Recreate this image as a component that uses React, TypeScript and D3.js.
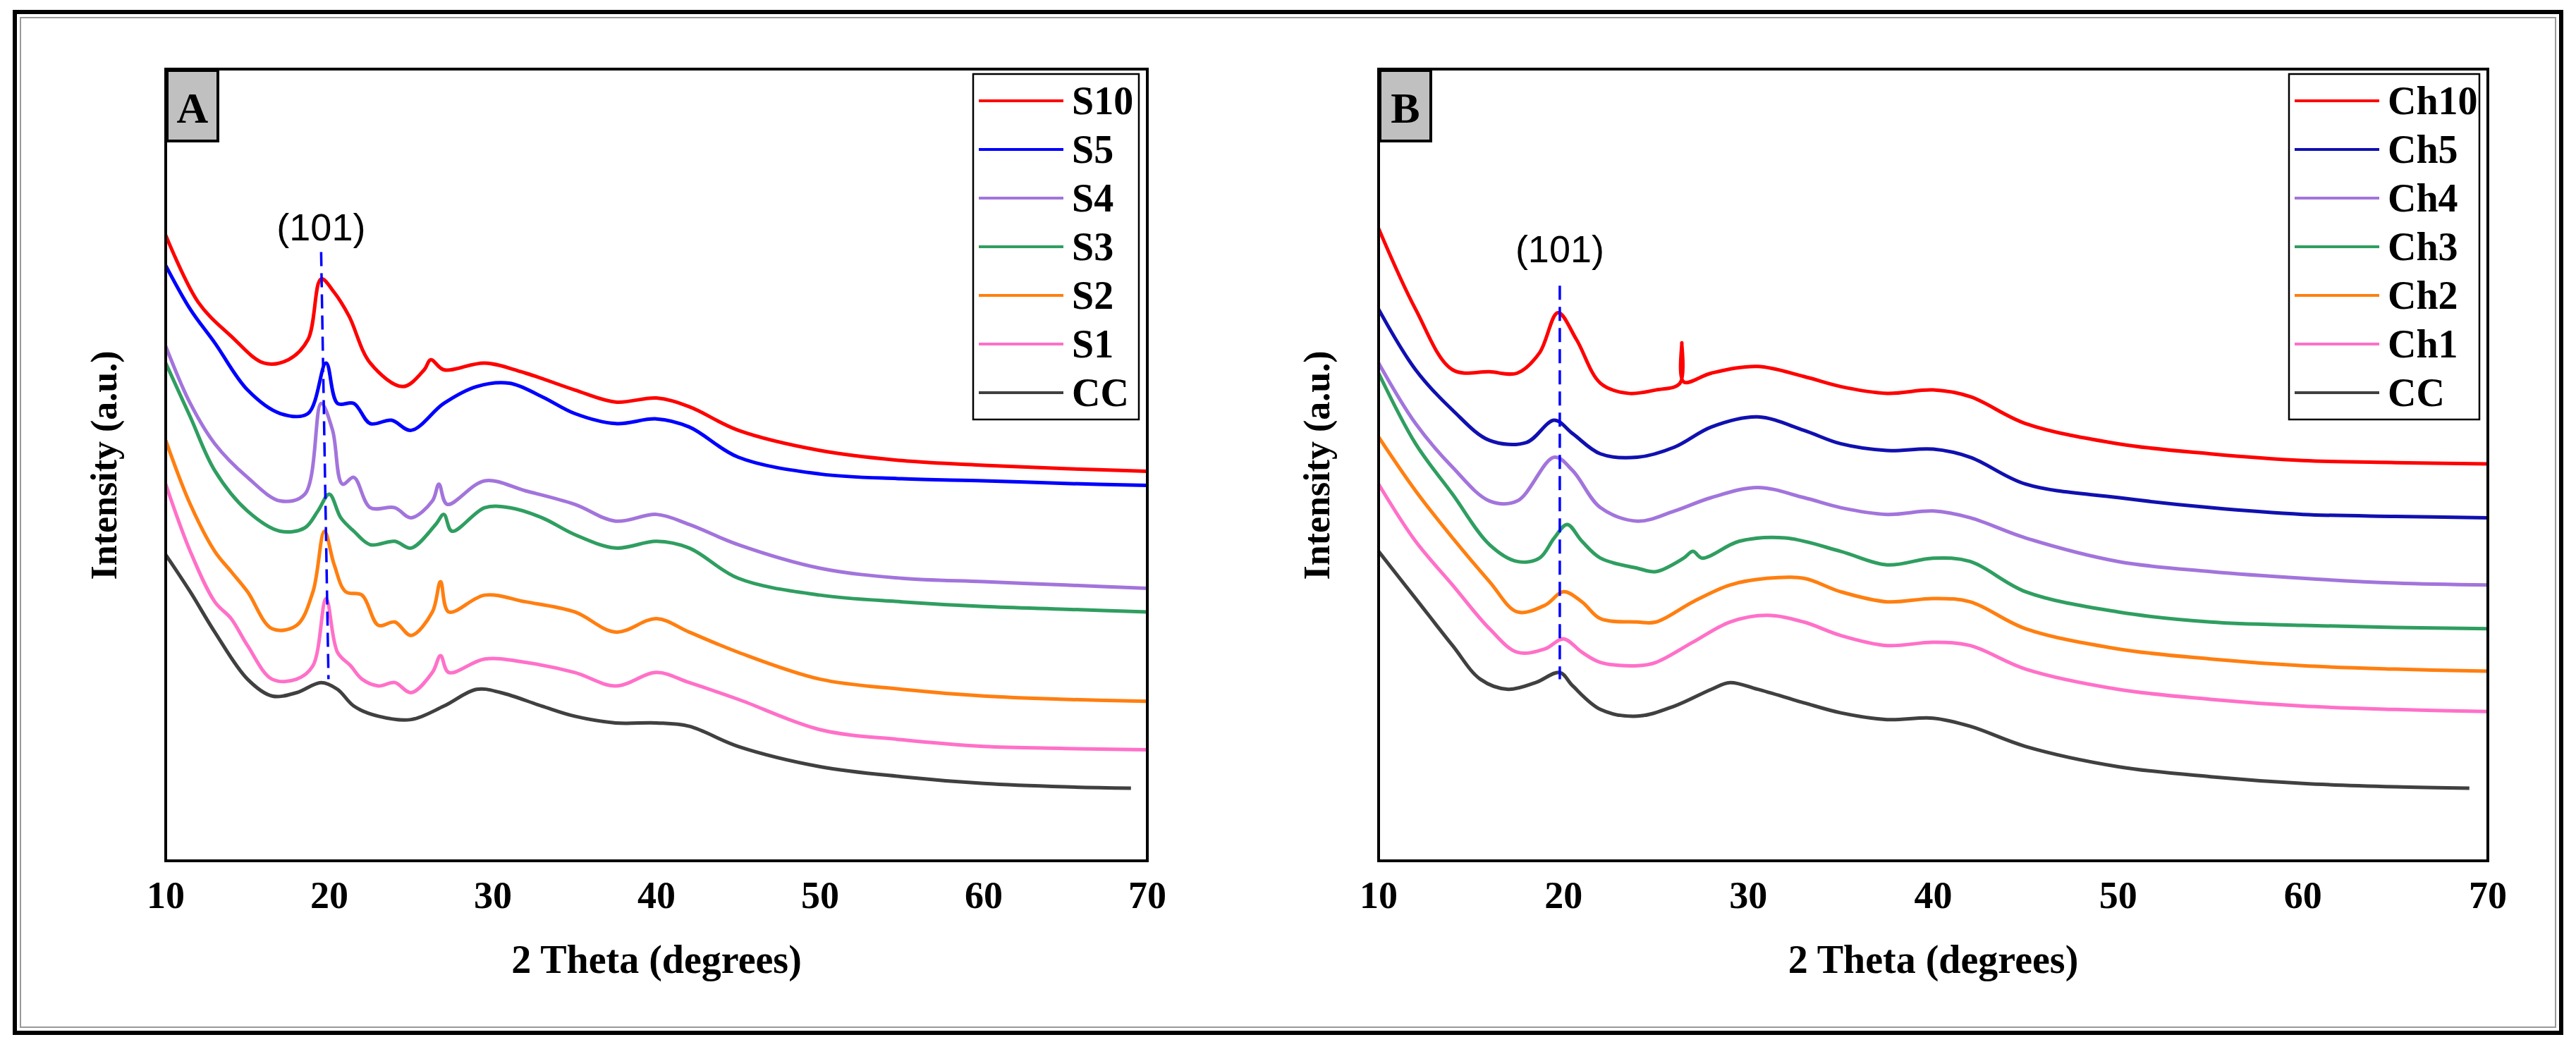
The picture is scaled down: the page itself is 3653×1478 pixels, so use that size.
import React from "react";
import * as d3 from "d3";

type P = [number, number];

const xTicks = [10, 20, 30, 40, 50, 60, 70];

const namesA = ["S10", "S5", "S4", "S3", "S2", "S1", "CC"];
const namesB = ["Ch10", "Ch5", "Ch4", "Ch3", "Ch2", "Ch1", "CC"];
const colorsA = ["#ff0000", "#0000ff", "#a274dc", "#2f9e60", "#ff7f10", "#ff70c8", "#404040"];
const colorsB = ["#ff0000", "#1010b0", "#a274dc", "#2f9e60", "#ff7f10", "#ff70c8", "#404040"];

const S10: P[] = [[10,930],[12,830],[14,780],[16,740],[17.5,745],[18.7,775],[19.5,865],[20.3,845],[21.2,810],[22.5,740],[24.5,705],[25.8,730],[26.2,745],[27,730],[29.5,740],[32,725],[35,700],[37.5,682],[40,688],[42,675],[45,640],[50,610],[55,595],[60,588],[65,583],[70,579]];
const S5: P[] = [[10,885],[11.5,820],[13,770],[15,700],[17,665],[18.7,665],[19.8,740],[20.5,680],[21.5,680],[22.5,650],[23.8,655],[25,640],[27,680],[29,705],[31,710],[33,690],[35,665],[37.5,650],[40,657],[42,645],[45,600],[50,575],[55,568],[60,565],[65,561],[70,558]];
const S4: P[] = [[10,765],[11.5,680],[13,620],[15,570],[17,535],[18.5,545],[19.5,680],[20.2,640],[20.8,560],[21.5,570],[22.5,525],[24,525],[25,510],[26.3,535],[26.7,560],[27.2,530],[29.5,565],[32,550],[35,530],[37.5,505],[40,515],[42,500],[45,470],[50,435],[55,420],[60,415],[65,410],[70,405]];
const S3: P[] = [[10,740],[11.5,660],[13,580],[15,520],[17,490],[18.5,495],[19.3,520],[20,545],[20.7,510],[21.5,490],[22.5,470],[24,475],[25,465],[26.5,500],[27,515],[27.5,490],[29.5,525],[31,525],[33,510],[35,485],[37.5,465],[40,475],[42,465],[45,420],[50,395],[55,385],[60,378],[65,374],[70,370]];
const S2: P[] = [[10,625],[11.5,530],[13,460],[14,430],[15,400],[16.5,345],[18,350],[19,400],[19.7,490],[20.3,440],[21,400],[22,395],[23,350],[24,355],[25,335],[26.3,370],[26.8,415],[27.3,370],[29.5,395],[32,385],[35,370],[37.5,340],[40,360],[42,340],[45,310],[50,270],[55,255],[60,245],[65,240],[70,237]];
const S1: P[] = [[10,560],[11.5,460],[13,385],[14,360],[15,320],[16.5,270],[18,270],[19,290],[19.8,390],[20.5,310],[21.3,290],[22,270],[23,260],[24,265],[25,250],[26.3,280],[26.8,305],[27.3,280],[29.5,300],[32,295],[35,280],[37.5,260],[40,280],[42,265],[45,240],[50,195],[55,180],[60,170],[65,167],[70,165]];
const CCa: P[] = [[10,455],[11.5,400],[13,340],[15,270],[16.5,245],[18,250],[19.5,265],[20.5,255],[21.5,230],[23,215],[25,210],[27,230],[29,255],[30.5,250],[33,230],[35,215],[37.5,205],[40,205],[42,200],[45,170],[50,140],[55,125],[60,115],[65,110],[69,108]];

const Ch10: P[] = [[10,940],[12,820],[14,730],[16,727],[17.5,725],[18.7,755],[19.7,815],[20.7,775],[22,710],[23.5,695],[25,700],[26.3,710],[26.4,770],[26.5,712],[28,725],[30.5,735],[33,720],[35,705],[37.5,695],[40,700],[42,690],[45,650],[50,620],[55,605],[60,595],[65,592],[70,590]];
const Ch5: P[] = [[10,820],[12,730],[14,670],[16,625],[18,622],[19.5,655],[20.5,635],[22,605],[24,600],[26,615],[28,645],[30.5,660],[33,640],[35,620],[37.5,610],[40,612],[42,600],[45,560],[50,540],[55,525],[60,515],[65,512],[70,510]];
const Ch4: P[] = [[10,740],[12,650],[14,585],[16,535],[17.5,535],[19.5,600],[20.5,580],[22,525],[24,505],[26,520],[28,540],[30.5,555],[33,540],[35,525],[37.5,515],[40,520],[42,510],[45,480],[50,445],[55,430],[60,420],[65,413],[70,410]];
const Ch3: P[] = [[10,725],[12,620],[14,545],[16,470],[17.5,445],[18.7,450],[19.5,480],[20.2,500],[21,475],[22,450],[24,435],[25,430],[26.5,450],[27,460],[27.5,450],[29.5,475],[32,480],[35,460],[37.5,440],[40,450],[42,445],[45,400],[50,370],[55,355],[60,350],[65,347],[70,345]];
const Ch2: P[] = [[10,630],[12,550],[14,480],[16,415],[17.5,370],[19,380],[20,400],[21,385],[22,360],[24,355],[25,355],[27,385],[29,410],[31,420],[33,420],[35,400],[37.5,385],[40,390],[42,385],[45,345],[50,315],[55,300],[60,290],[65,285],[70,282]];
const Ch1: P[] = [[10,560],[12,475],[14,410],[16,345],[17.5,310],[19,315],[20,330],[21,310],[22,295],[24,290],[25,295],[27,325],[29,355],[31,365],[33,355],[35,335],[37.5,320],[40,325],[42,320],[45,285],[50,255],[55,240],[60,230],[65,225],[70,222]];
const CCb: P[] = [[10,460],[12,390],[14,320],[15.5,270],[17,255],[18.5,265],[19.8,280],[20.5,260],[22,225],[24,215],[26,230],[28,255],[29,265],[30.5,255],[33,235],[35,220],[37.5,210],[40,212],[42,200],[45,170],[50,140],[55,125],[60,115],[65,110],[69,108]];

const seriesA = [S10, S5, S4, S3, S2, S1, CCa];
const seriesB = [Ch10, Ch5, Ch4, Ch3, Ch2, Ch1, CCb];

const serif = "'Liberation Serif', 'Times New Roman', serif";
const sans = "'Liberation Sans', Arial, sans-serif";

function Panel(props: {
  left: number; right: number; letter: string; names: string[]; colors: string[];
  series: P[][]; dash: [P, P]; labelY: number; yTitleX: number; legendW: number;
}) {
  const { left, right, letter, names, colors, series, dash, labelY, yTitleX, legendW } = props;
  const top = 98, bottom = 1221;
  const x = d3.scaleLinear().domain([10, 70]).range([left, right]);
  const y = d3.scaleLinear().domain([0, 1177]).range([bottom, top]);
  const line = d3.line<P>().x(d => x(d[0])).y(d => y(d[1])).curve(d3.curveCatmullRom.alpha(0.5));
  const lx = right - legendW - 12;
  return (
    <g>
      {series.map((s, i) => (
        <path key={i} d={line(s) || ""} fill="none" stroke={colors[i]} strokeWidth={5} strokeLinejoin="round" />
      ))}
      <line x1={x(dash[0][0])} y1={y(dash[0][1])} x2={x(dash[1][0])} y2={y(dash[1][1])}
        stroke="#0000ff" strokeWidth={3.5} strokeDasharray="20,10" />
      <text x={x(dash[0][0])} y={y(labelY)} textAnchor="middle" fontFamily={sans} fontSize={54}>(101)</text>
      <rect x={left} y={top} width={right - left} height={bottom - top} fill="none" stroke="#000" strokeWidth={4} />
      <rect x={left + 2} y={top + 2} width={72} height={100} fill="#c0c0c0" stroke="#000" strokeWidth={4} />
      <text x={left + 38} y={top + 76} textAnchor="middle" fontFamily={serif} fontWeight="bold" fontSize={62}>{letter}</text>
      <rect x={lx} y={top + 7} width={legendW} height={490} fill="#fff" stroke="#000" strokeWidth={2.5} />
      {names.map((n, i) => {
        const yy = top + 45 + i * 69;
        return (
          <g key={n}>
            <line x1={lx + 8} x2={lx + 128} y1={yy} y2={yy} stroke={colors[i]} strokeWidth={4} />
            <text x={lx + 140} y={yy + 19} fontFamily={serif} fontWeight="bold" fontSize={56}>{n}</text>
          </g>
        );
      })}
      {xTicks.map(t => (
        <text key={t} x={x(t)} y={1288} textAnchor="middle" fontFamily={serif} fontWeight="bold" fontSize={54}>{t}</text>
      ))}
      <text x={(left + right) / 2} y={1380} textAnchor="middle" fontFamily={serif} fontWeight="bold" fontSize={56}>2 Theta (degrees)</text>
      <text transform={`translate(${yTitleX},660) rotate(-90)`} textAnchor="middle" fontFamily={serif} fontWeight="bold" fontSize={52}>Intensity (a.u.)</text>
    </g>
  );
}

export default function App() {
  return (
    <svg width={3653} height={1478} style={{ position: "absolute", left: 0, top: 0, background: "#fff" }}>
      <rect x={0} y={0} width={3653} height={1478} fill="#fff" />
      <rect x={21} y={17} width={3611} height={1448} fill="none" stroke="#000" strokeWidth={6} />
      <rect x={29} y={25} width={3595} height={1432} fill="none" stroke="#999" strokeWidth={2} />
      <Panel left={235} right={1627} letter="A" names={namesA} colors={colorsA} series={seriesA}
        dash={[[19.5, 905], [19.95, 270]]} labelY={922} yTitleX={165} legendW={235} />
      <Panel left={1955} right={3528} letter="B" names={namesB} colors={colorsB} series={seriesB}
        dash={[[19.8, 855], [19.8, 270]]} labelY={890} yTitleX={1885} legendW={270} />
    </svg>
  );
}
